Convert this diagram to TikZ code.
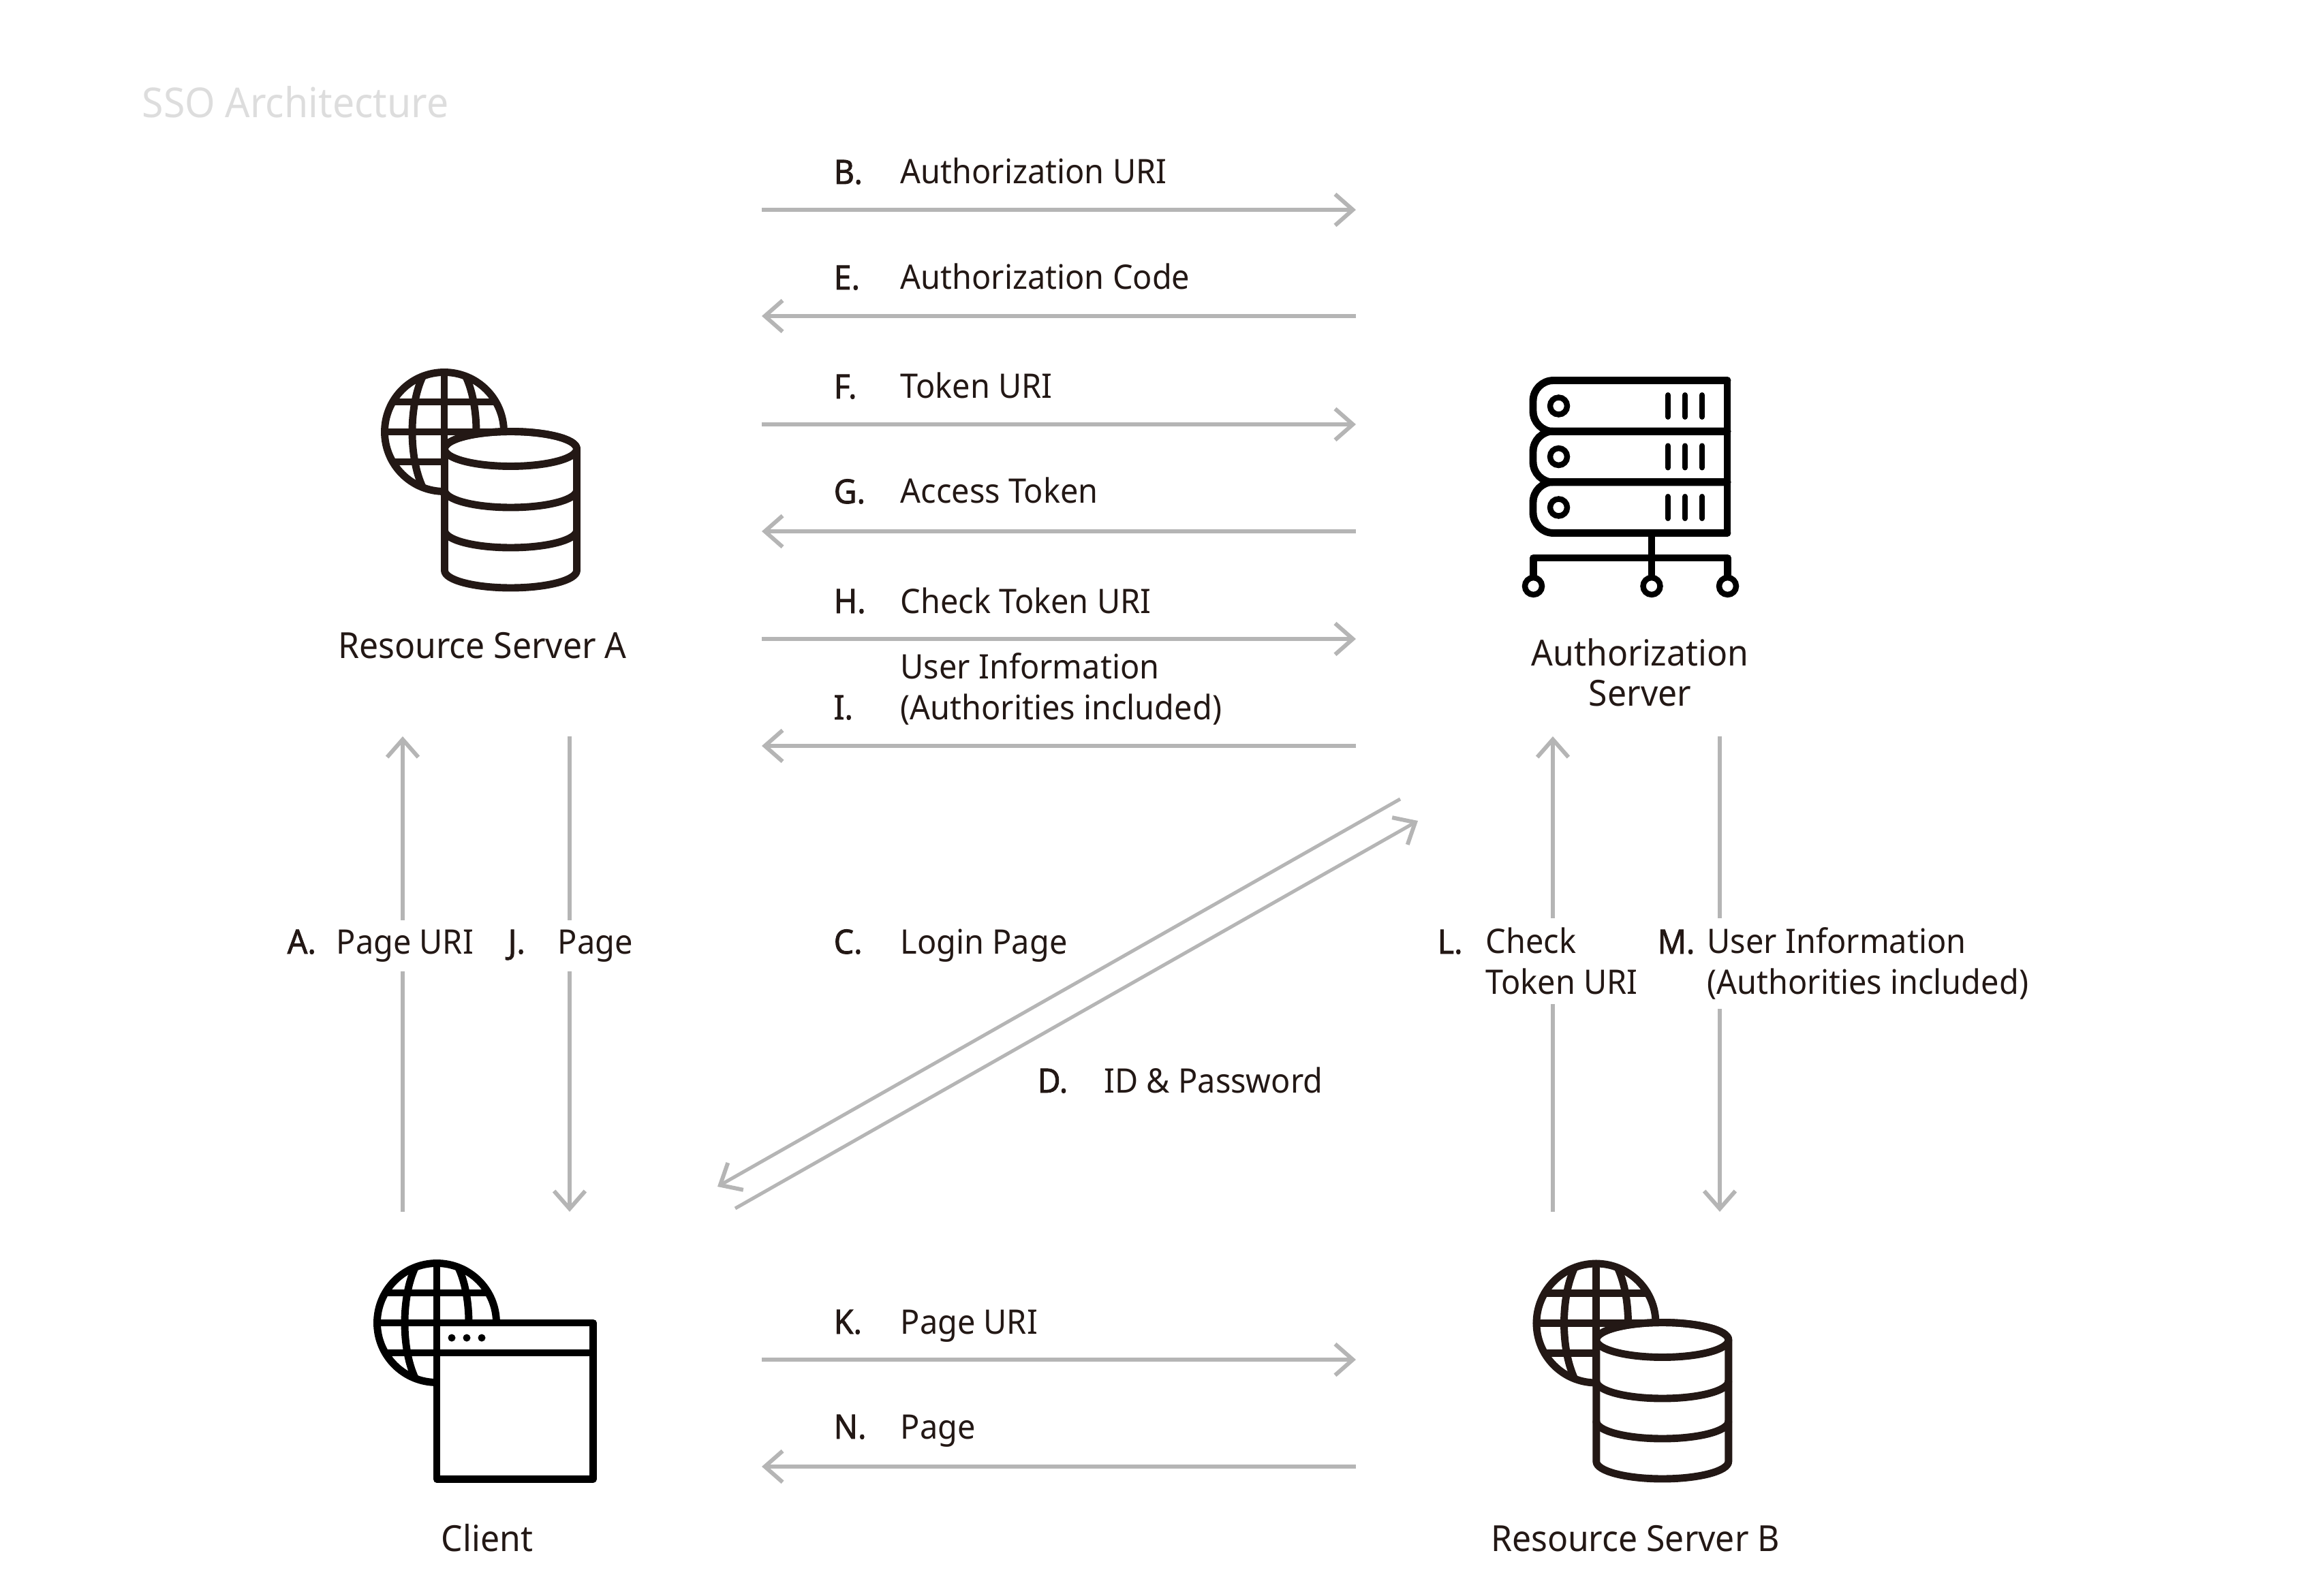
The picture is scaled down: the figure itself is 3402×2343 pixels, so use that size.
\documentclass[tikz,border=0pt]{standalone}
\usepackage{fontspec}
\setmainfont{Noto Sans}[FakeStretch=0.945]
\newfontfamily\keyfont{Noto Sans}[FakeStretch=0.945, FakeBold=1.6]
\usetikzlibrary{arrows.meta}
\tikzset{
  flowLine/.style={draw=flowGray, line width=1.45pt, -{Straight Barb[length=7.4pt,width=13pt,line width=1.7pt]}},
  iconLine/.style={line width=3.1pt, line join=round, line cap=round},
  nameText/.style={font=\fontsize{15}{16.8}\selectfont, text=ink, align=center, anchor=base, inner sep=0pt},
  keyText/.style={font=\fontsize{14}{16.8}\keyfont, text=ink, anchor=base west, inner sep=0pt},
  msgText/.style={font=\fontsize{14.1}{16.8}\selectfont, text=ink, anchor=base west, align=left, inner xsep=0pt, inner ysep=4pt},
  gapText/.style={msgText, fill=white},
  pics/globeIcon/.style={code={
    \draw[iconLine, fill=white] (0,0) circle (87.5);
    \begin{scope}
      \clip (0,0) circle (87.5);
      \draw[iconLine] (0,0) ellipse (47 and 110);
    \end{scope}
    \draw[iconLine] (0,-87.5) -- (0,87.5);
    \draw[iconLine] (-87.5,0) -- (87.5,0);
    \draw[iconLine] (-75.6,-44) -- (75.6,-44);
    \draw[iconLine] (-75.6,44) -- (75.6,44);
  }},
  pics/dataIcon/.style={code={
    \draw[iconLine, fill=white] (-97,0) -- (-97,178.5) arc[start angle=180, end angle=0, x radius=97, y radius=25.5] -- (97,0) arc[start angle=0, end angle=-180, x radius=97, y radius=25.5] -- cycle;
    \draw[iconLine] (0,0) ellipse (97 and 25.5);
    \draw[iconLine] (-97,60.5) arc[start angle=180, end angle=0, x radius=97, y radius=25.5];
    \draw[iconLine] (-97,119.5) arc[start angle=180, end angle=0, x radius=97, y radius=25.5];
  }},
  pics/rackRow/.style={code={
    \draw[iconLine] (285,0) -- (30,0) arc[start angle=-90, end angle=-180, radius=30] -- (0,45) arc[start angle=180, end angle=90, radius=30] -- (285,75);
    \draw[line width=2.4pt, fill=white] (37.5,37.5) circle (12.5);
    \foreach \barx in {198,223,248}
      \draw[line width=2.3pt, line cap=round] (\barx,21.5) -- (\barx,53.5);
  }},
}
\begin{document}
\begin{tikzpicture}[x=0.01cm, y=-0.01cm]
  \definecolor{ink}{RGB}{35,24,21}
  \definecolor{flowGray}{RGB}{181,181,181}
  \definecolor{titleGray}{RGB}{221,221,221}
  \useasboundingbox (0,0) rectangle (3402,2343);

  \node[font=\fontsize{17.2}{18}\selectfont, text=titleGray, anchor=base west, inner sep=0pt] (title) at (208,173) {SSO Architecture};

  \coordinate (bFrom) at (1118,308);  \coordinate (bTo) at (1990,308);
  \coordinate (eFrom) at (1990,464);  \coordinate (eTo) at (1118,464);
  \coordinate (fFrom) at (1118,623);  \coordinate (fTo) at (1990,623);
  \coordinate (gFrom) at (1990,780);  \coordinate (gTo) at (1118,780);
  \coordinate (hFrom) at (1118,938);  \coordinate (hTo) at (1990,938);
  \coordinate (iFrom) at (1990,1095); \coordinate (iTo) at (1118,1095);
  \coordinate (kFrom) at (1118,1996); \coordinate (kTo) at (1990,1996);
  \coordinate (nFrom) at (1990,2153); \coordinate (nTo) at (1118,2153);
  \coordinate (aFrom) at (591,1779);  \coordinate (aTo) at (591,1081);
  \coordinate (jFrom) at (836,1081);  \coordinate (jTo) at (836,1779);
  \coordinate (lFrom) at (2279,1779); \coordinate (lTo) at (2279,1081);
  \coordinate (mFrom) at (2524,1081); \coordinate (mTo) at (2524,1779);
  \coordinate (cFrom) at (2055,1173); \coordinate (cTo) at (1053,1742);
  \coordinate (dFrom) at (1079,1774); \coordinate (dTo) at (2081,1205);

  \foreach \flowName in {b,e,f,g,h,i,k,n,a,j,l,m,c,d}
    \draw[flowLine] (\flowName From) -- (\flowName To);

  \node[keyText] (bKey) at (1223,270) {B.};
  \node[msgText] (bMsg) at (1321,270) {Authorization URI};
  \node[keyText] (eKey) at (1223,425) {E.};
  \node[msgText] (eMsg) at (1321,425) {Authorization Code};
  \node[keyText] (fKey) at (1223,585) {F.};
  \node[msgText] (fMsg) at (1321,585) {Token URI};
  \node[keyText] (gKey) at (1223,739) {G.};
  \node[msgText] (gMsg) at (1321,739) {Access Token};
  \node[keyText] (hKey) at (1223,900) {H.};
  \node[msgText] (hMsg) at (1321,900) {Check Token URI};
  \node[keyText] (iKey) at (1223,1056) {I.};
  \node[msgText] (iMsg) at (1321,1056) {User Information\\(Authorities included)};
  \node[keyText] (kKey) at (1223,1958) {K.};
  \node[msgText] (kMsg) at (1321,1958) {Page URI};
  \node[keyText] (nKey) at (1223,2112) {N.};
  \node[msgText] (nMsg) at (1321,2112) {Page};

  \node[gapText] (aMsg) at (493,1400) {Page URI};
  \node[keyText] (aKey) at (421,1400) {A.};
  \node[gapText] (jMsg) at (818,1400) {Page};
  \node[keyText] (jKey) at (745,1400) {J.};
  \node[keyText] (cKey) at (1223,1400) {C.};
  \node[msgText] (cMsg) at (1321,1400) {Login Page};
  \node[keyText] (dKey) at (1522,1604) {D.};
  \node[msgText] (dMsg) at (1620,1604) {ID \& Password};
  \node[gapText] (lMsg) at (2180,1459) {Check\\Token URI};
  \node[keyText] (lKey) at (2109,1400) {L.};
  \node[gapText] (mMsg) at (2505,1459) {User Information\\(Authorities included)};
  \node[keyText] (mKey) at (2432,1400) {M.};

  \begin{scope}[draw=ink, ink]
    \pic at (652,634) {globeIcon};
    \pic at (749.5,659) {dataIcon};
    \pic at (2342.5,1942.5) {globeIcon};
    \pic at (2439.8,1967) {dataIcon};
  \end{scope}

  \pic at (641,1942) {globeIcon};
  \draw[iconLine, fill=white] (641,1942) rectangle (870.5,2171.5);
  \draw[iconLine] (641,1986) -- (870.5,1986);
  \foreach \dotx in {663,685,707}
    \fill (\dotx,1964) circle (5.5);

  \pic at (2250,558.5) {rackRow};
  \pic at (2250,633) {rackRow};
  \pic at (2250,707.5) {rackRow};
  \draw[iconLine] (2535,558.5) -- (2535,782.5);
  \draw[iconLine] (2424,782.5) -- (2424,845);
  \draw[iconLine] (2250.5,845) -- (2250.5,819) -- (2535.5,819) -- (2535.5,845);
  \foreach \tapx in {2250.5,2424,2535.5}
    \draw[line width=2.4pt, fill=white] (\tapx,860.5) circle (12.5);

  \node[nameText] (serverA) at (708,967) {Resource Server A};
  \node[nameText] (authServer) at (2407,1037) {Authorization\\Server};
  \node[nameText] (client) at (715,2277) {Client};
  \node[nameText] (serverB) at (2400,2277) {Resource Server B};
\end{tikzpicture}
\end{document}
